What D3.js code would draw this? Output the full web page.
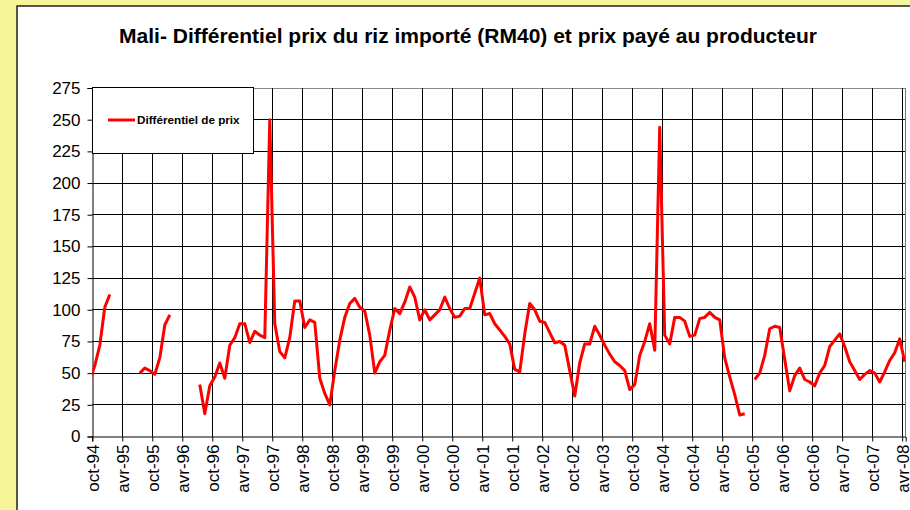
<!DOCTYPE html>
<html>
<head>
<meta charset="utf-8">
<script src="https://cdn.jsdelivr.net/npm/d3@7"></script>
<style>
  body { margin: 0; background: #f6f59a; }
  svg { display: block; font-family: "Liberation Sans", Arial, sans-serif; }
</style>
</head>
<body>
<div id="graf"></div>
<script>
// libellés de l'axe des x (un tous les 6 mois, à partir de oct-94)
const libellesMois = ["oct-94", "avr-95", "oct-95", "avr-96", "oct-96", "avr-97", "oct-97", "avr-98",
  "oct-98", "avr-99", "oct-99", "avr-00", "oct-00", "avr-01", "oct-01", "avr-02", "oct-02", "avr-03",
  "oct-03", "avr-04", "oct-04", "avr-05", "oct-05", "avr-06", "oct-06", "avr-07", "oct-07", "avr-08"];

// graduations de l'axe des y
const graduationsY = [0, 25, 50, 75, 100, 125, 150, 175, 200, 225, 250, 275];

// différentiel de prix mensuel, de sep-94 à avr-08 (null = pas de donnée)
const differentiel = [
  44, 56, 72, 102, 112,                         // sep-94 .. jan-95
  null, null, null, null, null,                 // fev-95 .. jun-95
  50, 54, 52, 49, 62, 88, 96,                   // jul-95 .. jan-96
  null, null, null, null, null,                 // fev-96 .. jun-96
  41, 18, 40, 47, 58, 46,                       // jul-96 .. dec-96
  72, 78, 89, 89, 74, 83, 80, 78, 250, 89, 67, 62,     // 1997
  78, 107, 107, 86, 92, 90, 46, 34, 25, 52, 76, 94,    // 1998
  105, 109, 102, 99, 80, 50, 59, 64, 84, 101, 97, 106, // 1999
  118, 110, 92, 100, 92, 96, 100, 110, 101, 94, 95, 101, // 2000
  101, 113, 125, 96, 97, 89, 84, 79, 73, 53, 51, 81,   // 2001
  105, 100, 91, 90, 82, 74, 75, 72, 52, 32, 58, 73,    // 2002
  73, 87, 80, 72, 65, 59, 56, 52, 37, 41, 64, 75,      // 2003
  89, 68, 244, 80, 73, 94, 94, 91, 79, 80, 93, 94,     // 2004
  98, 94, 92, 62, 47, 33, 17, 18, null, 45, 50, 64,    // 2005
  85, 87, 86, 61, 36, 48, 54, 45, 43, 40, 50, 56,      // 2006
  71, 76, 81, 71, 59, 52, 45, 49, 52, 50, 43, 51,      // 2007
  60, 66, 77, 59                                       // jan-08 .. avr-08
];
const indexDepart = -1; // sep-94 = un mois avant oct-94

const largeur = 910, hauteur = 510;
const zone = { gauche: 92.3, droite: 905.7, haut: 88, bas: 436.5 };

// position nette sur le pixel
const net = (v) => Math.round(v - 0.5) + 0.5;

const svg = d3.select("#graf").append("svg")
  .attr("width", largeur)
  .attr("height", hauteur);

// cadre blanc du graphique
svg.append("rect")
  .attr("x", 17).attr("y", 6)
  .attr("width", 960).attr("height", 560)
  .attr("fill", "#fff")
  .attr("stroke", "#222")
  .attr("stroke-width", 1.5);

svg.append("text")
  .attr("x", 468).attr("y", 43)
  .attr("text-anchor", "middle")
  .attr("font-weight", "bold")
  .attr("font-size", 21)
  .text("Mali- Différentiel prix du riz importé (RM40) et prix payé au producteur");

// échelles : x en mois depuis oct-94, points au milieu du mois
const x = d3.scaleLinear().domain([0, 162.7]).range([zone.gauche, zone.droite]);
const y = d3.scaleLinear().domain([0, 275]).range([zone.bas, zone.haut]);

// grille horizontale
svg.append("g")
  .selectAll("line")
  .data(graduationsY.slice(1))
  .join("line")
  .attr("x1", zone.gauche).attr("x2", zone.droite)
  .attr("y1", (d) => net(y(d))).attr("y2", (d) => net(y(d)))
  .attr("stroke", (d) => d === 275 ? "#888" : "#000")
  .attr("stroke-width", 1);

// grille verticale
const ticksX = libellesMois.map((d, i) => i * 6);
svg.append("g")
  .selectAll("line")
  .data(ticksX.slice(1))
  .join("line")
  .attr("x1", (d) => net(x(d))).attr("x2", (d) => net(x(d)))
  .attr("y1", zone.haut).attr("y2", zone.bas)
  .attr("stroke", "#000")
  .attr("stroke-width", 1);

// bord droit de la zone de traçage
svg.append("line")
  .attr("x1", net(zone.droite)).attr("x2", net(zone.droite))
  .attr("y1", zone.haut).attr("y2", zone.bas)
  .attr("stroke", "#777");

// axes
const axeY = svg.append("g")
  .attr("transform", `translate(${net(zone.gauche)},0)`)
  .call(d3.axisLeft(y).tickValues(graduationsY).tickSize(5).tickPadding(7));
axeY.selectAll("text").attr("font-size", 17).attr("fill", "#000").attr("font-family", null);

const axeX = svg.append("g")
  .attr("transform", `translate(0,${net(zone.bas)})`)
  .call(d3.axisBottom(x).tickValues(ticksX).tickSize(5)
    .tickFormat((d, i) => libellesMois[i]));
axeX.selectAll("text")
  .attr("font-size", 17)
  .attr("fill", "#000")
  .attr("font-family", null)
  .attr("text-anchor", "end")
  .attr("transform", "translate(0,8) rotate(-90)")
  .attr("x", 0).attr("y", 0)
  .attr("dy", "0.35em");

svg.selectAll(".domain, .tick line").attr("stroke", "#000");

// courbe, coupée au bord gauche de la zone
svg.append("clipPath").attr("id", "clip-zone")
  .append("rect")
  .attr("x", zone.gauche).attr("y", zone.haut - 5)
  .attr("width", zone.droite - zone.gauche)
  .attr("height", zone.bas - zone.haut + 5);

const ligne = d3.line()
  .defined((d) => d != null)
  .x((d, i) => x(indexDepart + i + 0.5))
  .y((d) => y(d));

svg.append("path")
  .datum(differentiel)
  .attr("clip-path", "url(#clip-zone)")
  .attr("d", ligne)
  .attr("fill", "none")
  .attr("stroke", "#ff0000")
  .attr("stroke-width", 3)
  .attr("stroke-linejoin", "round");

// légende
const legende = svg.append("g");
legende.append("rect")
  .attr("x", net(zone.gauche)).attr("y", 87.5)
  .attr("width", 161).attr("height", 66)
  .attr("fill", "#fff")
  .attr("stroke", "#000");
legende.append("line")
  .attr("x1", 108).attr("x2", 135)
  .attr("y1", 120).attr("y2", 120)
  .attr("stroke", "#ff0000")
  .attr("stroke-width", 3);
legende.append("text")
  .attr("x", 137).attr("y", 120)
  .attr("dy", "0.35em")
  .attr("font-size", 11.7)
  .attr("font-weight", "bold")
  .text("Différentiel de prix");
</script>
</body>
</html>
